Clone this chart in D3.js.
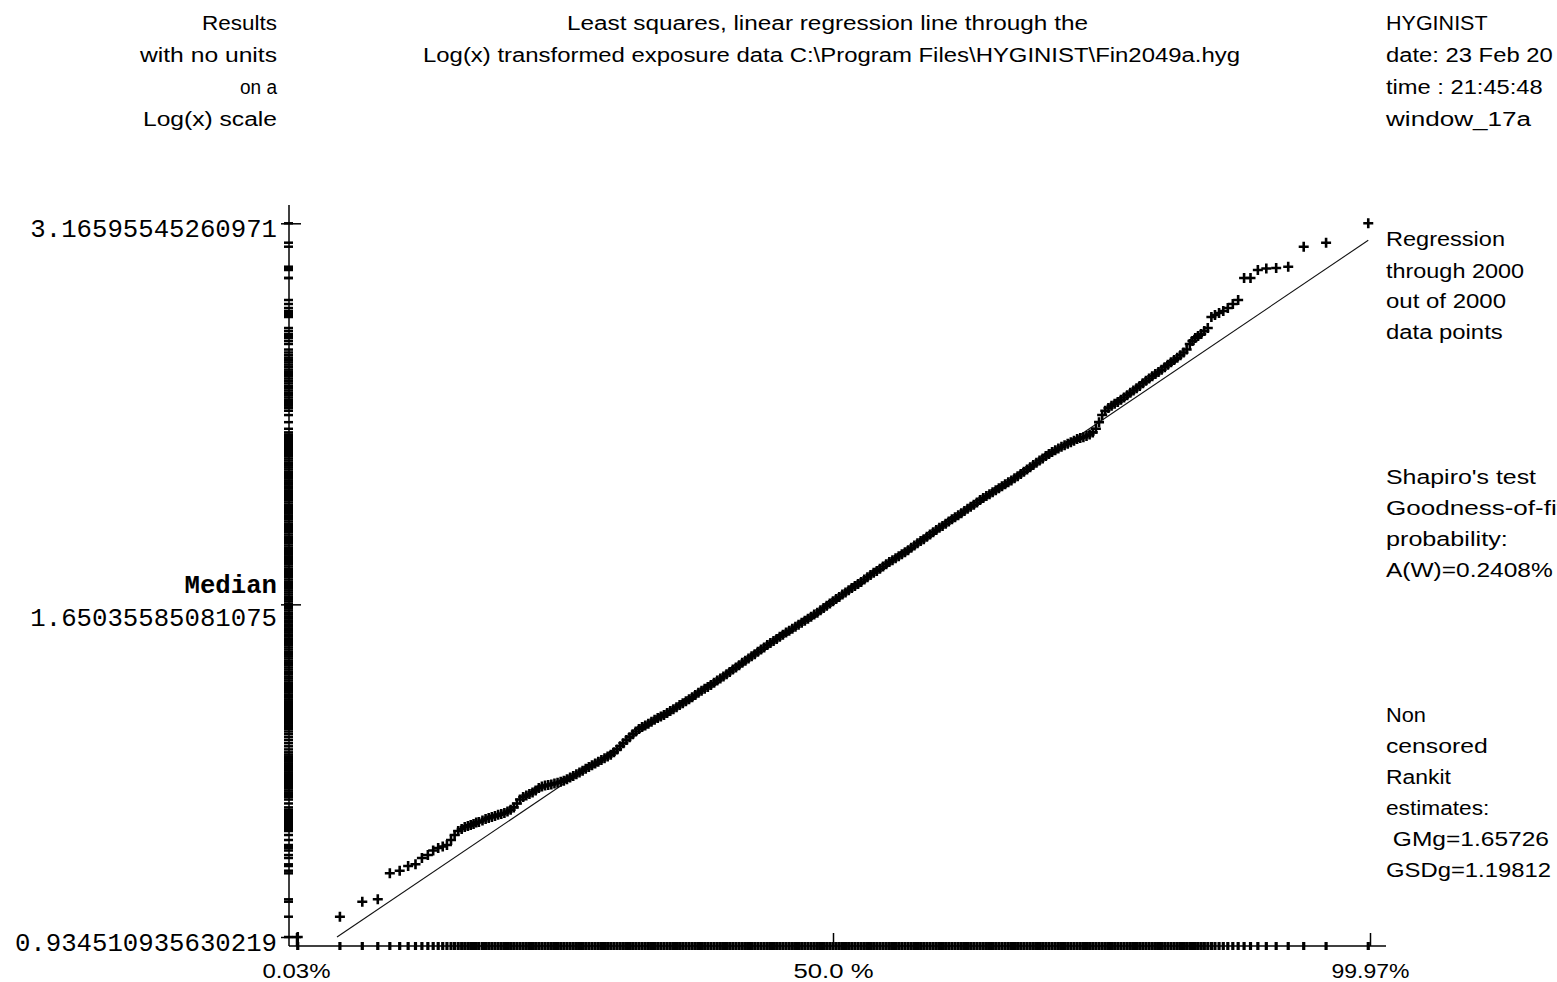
<!DOCTYPE html>
<html>
<head>
<meta charset="utf-8">
<script src="https://cdn.jsdelivr.net/npm/d3@7"></script>
<style>
  html, body { margin: 0; padding: 0; background: #fff; overflow: hidden; }
  svg { display: block; }
</style>
</head>
<body>
<svg id="chart" width="1557" height="982"></svg>
<script>
// Normal scores (rankits) of the plotted results, lowest to highest
const rankits = [
  -3.4205, -3.151, -3.008, -2.909, -2.832, -2.769, -2.715, -2.668, -2.627, -2.589,
  -2.555, -2.523, -2.494, -2.467, -2.441, -2.418, -2.395, -2.373, -2.353, -2.333,
  -2.315, -2.297, -2.280, -2.263,
  -2.24, -2.22, -2.20, -2.18, -2.16, -2.14, -2.12, -2.10, -2.08, -2.06,
  -2.04, -2.02, -2.00, -1.98, -1.96, -1.94, -1.92, -1.90, -1.88, -1.86,
  -1.84, -1.82, -1.80, -1.78, -1.76, -1.74, -1.72, -1.70, -1.68, -1.66,
  -1.64, -1.62, -1.60, -1.58, -1.56, -1.54, -1.52, -1.50, -1.48, -1.46,
  -1.44, -1.42, -1.40, -1.38, -1.36, -1.34, -1.32, -1.30, -1.28, -1.26,
  -1.24, -1.22, -1.20, -1.18, -1.16, -1.14, -1.12, -1.10, -1.08, -1.06,
  -1.04, -1.02, -1.00, -0.98, -0.96, -0.94, -0.92, -0.90, -0.88, -0.86,
  -0.84, -0.82, -0.80, -0.78, -0.76, -0.74, -0.72, -0.70, -0.68, -0.66,
  -0.64, -0.62, -0.60, -0.58, -0.56, -0.54, -0.52, -0.50, -0.48, -0.46,
  -0.44, -0.42, -0.40, -0.38, -0.36, -0.34, -0.32, -0.30, -0.28, -0.26,
  -0.24, -0.22, -0.20, -0.18, -0.16, -0.14, -0.12, -0.10, -0.08, -0.06,
  -0.04, -0.02, 0.00, 0.02, 0.04, 0.06, 0.08, 0.10, 0.12, 0.14,
  0.16, 0.18, 0.20, 0.22, 0.24, 0.26, 0.28, 0.30, 0.32, 0.34,
  0.36, 0.38, 0.40, 0.42, 0.44, 0.46, 0.48, 0.50, 0.52, 0.54,
  0.56, 0.58, 0.60, 0.62, 0.64, 0.66, 0.68, 0.70, 0.72, 0.74,
  0.76, 0.78, 0.80, 0.82, 0.84, 0.86, 0.88, 0.90, 0.92, 0.94,
  0.96, 0.98, 1.00, 1.02, 1.04, 1.06, 1.08, 1.10, 1.12, 1.14,
  1.16, 1.18, 1.20, 1.22, 1.24, 1.26, 1.28, 1.30, 1.32, 1.34,
  1.36, 1.38, 1.40, 1.42, 1.44, 1.46, 1.48, 1.50, 1.52, 1.54,
  1.56, 1.58, 1.60, 1.62, 1.64, 1.66, 1.68, 1.70, 1.72, 1.74,
  1.76, 1.78, 1.80, 1.82, 1.84, 1.86, 1.88, 1.90, 1.92, 1.94,
  1.96, 1.98, 2.00, 2.02, 2.04, 2.06, 2.08, 2.10, 2.12, 2.14,
  2.16, 2.18, 2.20, 2.22, 2.24, 2.26,
  2.280, 2.297, 2.315, 2.333, 2.353, 2.373, 2.395, 2.418, 2.441, 2.467, 2.494,
  2.523, 2.555, 2.589, 2.627, 2.668, 2.715, 2.769, 2.832, 2.909, 3.008, 3.151, 3.4205
];

// Log(x) of each result, same order as the rankits
const lnResults = [
  -0.067732, -0.03305, -0.00741, -0.00330, 0.04115, 0.04559, 0.05363, 0.05654, 0.06731, 0.07244,
  0.08013, 0.0844, 0.08697, 0.08953, 0.09808, 0.10663, 0.11347, 0.11689, 0.12031, 0.12202,
  0.12373, 0.12544, 0.128, 0.12886,
  0.13139, 0.13398, 0.13589, 0.13762, 0.13935, 0.14126, 0.14248, 0.14439, 0.14681, 0.14974,
  0.15386, 0.16056, 0.16725, 0.17155, 0.17414, 0.17673, 0.17949, 0.18293, 0.18706, 0.18948,
  0.19138, 0.19226, 0.19314, 0.19488, 0.19593, 0.19766, 0.19940, 0.20216, 0.20492, 0.20768,
  0.21044, 0.21337, 0.21664, 0.21991, 0.22285, 0.22578, 0.22871, 0.23198, 0.23491, 0.23784,
  0.24077, 0.24405, 0.24800, 0.25299, 0.25831, 0.26364, 0.26896, 0.27394, 0.27893, 0.28357,
  0.28787, 0.29114, 0.29407, 0.29700, 0.30028, 0.30355, 0.30648, 0.30907, 0.31200, 0.31527,
  0.31855, 0.32182, 0.32526, 0.32871, 0.33198, 0.33525, 0.33853, 0.34214, 0.34610, 0.35006,
  0.35333, 0.35660, 0.35988, 0.36315, 0.36676, 0.37072, 0.37434, 0.37761, 0.38157, 0.38552,
  0.38948, 0.39310, 0.39705, 0.40101, 0.40462, 0.40858, 0.41220, 0.41581, 0.41977, 0.42373,
  0.42734, 0.43130, 0.43491, 0.43819, 0.44180, 0.44576, 0.44903, 0.45265, 0.45592, 0.45919,
  0.46281, 0.46608, 0.46970, 0.47297, 0.47658, 0.47986, 0.48347, 0.48675, 0.49070, 0.49466,
  0.49862, 0.50223, 0.50619, 0.51015, 0.51376, 0.51772, 0.52133, 0.52495, 0.52891, 0.53252,
  0.53579, 0.53941, 0.54337, 0.54732, 0.55128, 0.55490, 0.55817, 0.56178, 0.56574, 0.56970,
  0.57331, 0.57659, 0.57986, 0.58313, 0.58675, 0.59002, 0.59364, 0.59759, 0.60155, 0.60551,
  0.60912, 0.61239, 0.61635, 0.62031, 0.62426, 0.62822, 0.63184, 0.63511, 0.63873, 0.64268,
  0.64664, 0.64991, 0.65319, 0.65680, 0.66076, 0.66437, 0.66765, 0.67126, 0.67522, 0.67918,
  0.68279, 0.68606, 0.68934, 0.69261, 0.69588, 0.69950, 0.70277, 0.70639, 0.70966, 0.71293,
  0.71655, 0.72016, 0.72378, 0.72773, 0.73169, 0.73531, 0.73926, 0.74288, 0.74684, 0.75045,
  0.75441, 0.75802, 0.76130, 0.76457, 0.76750, 0.77043, 0.77302, 0.77561, 0.77820, 0.78079,
  0.78372, 0.78528, 0.78685, 0.78875, 0.79134, 0.79496, 0.80114, 0.81245, 0.82461, 0.83199,
  0.83663, 0.84058, 0.84386, 0.84713, 0.85074, 0.85470, 0.85866, 0.86262, 0.86657, 0.87053,
  0.87449, 0.87879, 0.88308, 0.88704, 0.89100, 0.89461, 0.89823, 0.90219, 0.90648, 0.91078,
  0.91474, 0.91870, 0.92266, 0.92695, 0.93159, 0.93658,
  0.94609, 0.95122, 0.95635, 0.95977, 0.96319, 0.96832, 0.97345, 0.99226, 0.99567, 0.99909,
  1.00251, 1.00764, 1.01448, 1.02132, 1.05893, 1.05893, 1.07261, 1.07518, 1.07603, 1.07825,
  1.11245, 1.11929, 1.152455
];

// Axis labelling: lowest result, median, highest result
const yLabelValues = [0.934510935630219, 1.65035585081075, 3.16595545260971];
const yLabelTexts = ["0.934510935630219", "1.65035585081075", "3.16595545260971"];
const xTickPercents = [0.03, 50, 99.97];
const xTickLabels = ["0.03%", "50.0 %", "99.97%"];

// Rankit estimates of the fitted log-normal line
const gMg = 1.65726;
const gSDg = 1.19812;

// Inverse of the standard normal CDF (Acklam's rational approximation)
function probit(p) {
  const a = [-3.969683028665376e+01, 2.209460984245205e+02, -2.759285104469687e+02,
             1.383577518672690e+02, -3.066479806614716e+01, 2.506628277459239e+00];
  const b = [-5.447609879822406e+01, 1.615858368580409e+02, -1.556989798598866e+02,
             6.680131188771972e+01, -1.328068155288572e+01];
  const c = [-7.784894002430293e-03, -3.223964580411365e-01, -2.400758277161838e+00,
             -2.549732539343734e+00, 4.374664141464968e+00, 2.938163982698783e+00];
  const d = [7.784695709041462e-03, 3.224671290700398e-01, 2.445134137142996e+00,
             3.754408661907416e+00];
  const pl = 0.02425;
  if (p < pl) {
    const q = Math.sqrt(-2 * Math.log(p));
    return (((((c[0]*q+c[1])*q+c[2])*q+c[3])*q+c[4])*q+c[5]) /
           ((((d[0]*q+d[1])*q+d[2])*q+d[3])*q+1);
  }
  if (p > 1 - pl) {
    const q = Math.sqrt(-2 * Math.log(1 - p));
    return -(((((c[0]*q+c[1])*q+c[2])*q+c[3])*q+c[4])*q+c[5]) /
            ((((d[0]*q+d[1])*q+d[2])*q+d[3])*q+1);
  }
  const q = p - 0.5, r = q * q;
  return (((((a[0]*r+a[1])*r+a[2])*r+a[3])*r+a[4])*r+a[5])*q /
         (((((b[0]*r+b[1])*r+b[2])*r+b[3])*r+b[4])*r+1);
}

const SANS = "'Liberation Sans', Arial, sans-serif";
const MONO = "'Liberation Mono', 'Courier New', monospace";

const svg = d3.select("#chart");

const axisX0 = 289, axisX1 = 1386, axisY = 946, axisTop = 205;

const x = d3.scaleLinear()
  .domain([probit(xTickPercents[0] / 100), probit(xTickPercents[2] / 100)])
  .range([296, 1370]);

const y = d3.scaleLinear()
  .domain([Math.log(yLabelValues[0]), Math.log(yLabelValues[2])])
  .range([937, 223.3]);

const points = rankits.map((z, i) => ({ z, v: lnResults[i] }));

// ---- rugs: one tick per result on both axes
svg.append("g").attr("stroke", "#000").attr("stroke-width", 3.2)
  .selectAll("line").data(points).join("line")
  .attr("x1", d => x(d.z)).attr("x2", d => x(d.z))
  .attr("y1", axisY - 4).attr("y2", axisY + 4);

svg.append("g").attr("stroke", "#000").attr("stroke-width", 2.5)
  .selectAll("line").data(points).join("line")
  .attr("x1", axisX0 - 5).attr("x2", axisX0 + 4)
  .attr("y1", d => y(d.v)).attr("y2", d => y(d.v));

// ---- axis lines
svg.append("line").attr("x1", axisX0).attr("x2", axisX1)
  .attr("y1", axisY).attr("y2", axisY).attr("stroke", "#000").attr("stroke-width", 1.5);
svg.append("line").attr("x1", axisX0).attr("x2", axisX0)
  .attr("y1", axisTop).attr("y2", axisY).attr("stroke", "#000").attr("stroke-width", 1.5);

// ---- x axis: percent ticks on the probability scale
const xAxis = d3.axisBottom(x)
  .tickValues(xTickPercents.map(p => probit(p / 100)))
  .tickFormat((d, i) => xTickLabels[i])
  .tickSizeInner(-13).tickSizeOuter(0).tickPadding(18);
const gx = svg.append("g").attr("transform", `translate(0,${axisY})`).call(xAxis);
gx.select(".domain").remove();
gx.selectAll(".tick line").attr("stroke", "#000").attr("stroke-width", 1.5);
const xLabelWidths = [68, 80, 78];
gx.selectAll(".tick text")
  .attr("fill", "#000").attr("font-family", SANS).attr("font-size", 20)
  .attr("textLength", (d, i) => xLabelWidths[i]).attr("lengthAdjust", "spacingAndGlyphs");

// ---- y axis: lowest, median and highest result
const yAxis = d3.axisLeft(y)
  .tickValues(yLabelValues.map(Math.log))
  .tickFormat((d, i) => yLabelTexts[i])
  .tickSizeInner(-12).tickSizeOuter(0).tickPadding(12);
const gy = svg.append("g").attr("transform", `translate(${axisX0},0)`).call(yAxis);
gy.select(".domain").remove();
gy.selectAll(".tick line").attr("stroke", "#000").attr("stroke-width", 1.5);
gy.selectAll(".tick").append("line")
  .attr("x1", -8).attr("x2", 0).attr("stroke", "#000").attr("stroke-width", 1.5);
gy.selectAll(".tick text")
  .attr("fill", "#000").attr("font-family", MONO).attr("font-size", 25.7)
  .attr("dy", (d, i) => (i === 1 ? 20.7 : 13.6));
gy.selectAll(".tick").filter((d, i) => i === 1).append("text")
  .attr("x", -12).attr("dy", -12).attr("text-anchor", "end")
  .attr("font-family", MONO).attr("font-size", 25.7).attr("font-weight", "bold")
  .attr("fill", "#000").text("Median");

// ---- least squares line through the log-transformed data
const lnG = Math.log(gMg), lnS = Math.log(gSDg);
const zStart = (Math.log(yLabelValues[0]) - lnG) / lnS;
const zEnd = rankits[rankits.length - 1];
svg.append("path")
  .datum([zStart, zEnd])
  .attr("fill", "none").attr("stroke", "#111").attr("stroke-width", 1.1)
  .attr("d", d3.line().x(z => x(z)).y(z => y(lnG + z * lnS)));

// ---- the results, one cross each
svg.append("g").attr("stroke", "#000").attr("stroke-width", 2.6).attr("fill", "none")
  .selectAll("path").data(points).join("path")
  .attr("transform", d => `translate(${x(d.z)},${y(d.v)})`)
  .attr("d", "M-5,0H5M0,-5V5");

// ---- header and side notes
const notes = [
  { t: "Results", x: 277, y: 29.5, a: "end", w: 75 },
  { t: "with no units", x: 277, y: 61.5, a: "end", w: 137 },
  { t: "on a", x: 277, y: 93.5, a: "end", w: 37 },
  { t: "Log(x) scale", x: 277, y: 125.5, a: "end", w: 134 },
  { t: "Least squares, linear regression line through the", x: 567, y: 29.5, a: "start", w: 521 },
  { t: "Log(x) transformed exposure data C:\\Program Files\\HYGINIST\\Fin2049a.hyg", x: 423, y: 61.5, a: "start", w: 817 },
  { t: "HYGINIST", x: 1386, y: 29.5, a: "start", w: 101.6 },
  { t: "date: 23 Feb 20", x: 1386, y: 61.5, a: "start", w: 166.7 },
  { t: "time : 21:45:48", x: 1386, y: 93.5, a: "start", w: 156.7 },
  { t: "window_17a", x: 1386, y: 125.5, a: "start", w: 145 },
  { t: "Regression", x: 1386, y: 246, a: "start", w: 119 },
  { t: "through 2000", x: 1386, y: 277.5, a: "start", w: 138 },
  { t: "out of 2000", x: 1386, y: 308, a: "start", w: 120 },
  { t: "data points", x: 1386, y: 339, a: "start", w: 116.7 },
  { t: "Shapiro's test", x: 1386, y: 484, a: "start", w: 150 },
  { t: "Goodness-of-fit", x: 1386, y: 515, a: "start", w: 178 },
  { t: "probability:", x: 1386, y: 546, a: "start", w: 121.7 },
  { t: "A(W)=0.2408%", x: 1386, y: 577, a: "start", w: 166.7 },
  { t: "Non", x: 1386, y: 721.5, a: "start", w: 40 },
  { t: "censored", x: 1386, y: 752.5, a: "start", w: 101.7 },
  { t: "Rankit", x: 1386, y: 783.5, a: "start", w: 65 },
  { t: "estimates:", x: 1386, y: 814.5, a: "start", w: 103.3 },
  { t: " GMg=" + gMg.toFixed(5), x: 1386, y: 845.5, a: "start", w: 163 },
  { t: "GSDg=" + gSDg.toFixed(5), x: 1386, y: 876.5, a: "start", w: 165 }
];

svg.append("g").selectAll("text").data(notes).join("text")
  .attr("x", d => d.x).attr("y", d => d.y)
  .attr("text-anchor", d => d.a)
  .attr("font-family", SANS).attr("font-size", 20).attr("fill", "#000")
  .style("white-space", "pre")
  .attr("textLength", d => d.w).attr("lengthAdjust", "spacingAndGlyphs")
  .text(d => d.t);
</script>
</body>
</html>
